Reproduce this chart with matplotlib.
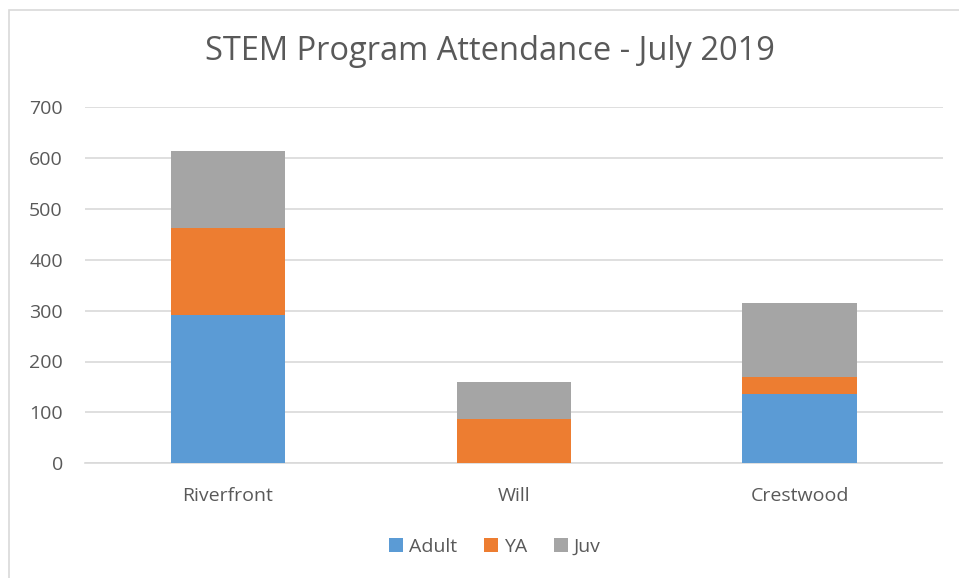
import matplotlib.pyplot as plt
import numpy as np
from matplotlib.patches import Rectangle

branches = ["Riverfront", "Will", "Crestwood"]
adult = [292, 0, 137]
ya = [171, 87, 33]
juv = [151, 73, 144]

colors = {"Adult": "#5B9BD5", "YA": "#ED7D31", "Juv": "#A5A5A5"}
text_color = "#595959"

plt.rcParams["font.family"] = ["Open Sans", "DejaVu Sans"]

W, H = 959, 578
fig = plt.figure(figsize=(W / 100, H / 100), dpi=100)
ax = fig.add_axes([85 / W, 1 - 463.3 / H, (942.5 - 85) / W, (463.3 - 107) / H])

x = np.arange(len(branches))
bottom = np.zeros(len(branches))
for name, vals in [("Adult", adult), ("YA", ya), ("Juv", juv)]:
    ax.bar(x, vals, width=0.4, bottom=bottom, color=colors[name], label=name,
           zorder=3)
    bottom += np.array(vals)

ax.set_xlim(-0.5, 2.5)
ax.set_ylim(0, 700)
ax.set_yticks(range(0, 701, 100))
ax.set_xticks(x)
ax.set_xticklabels(branches)
ax.grid(axis="y", color="#D9D9D9", linewidth=1.2, zorder=0)
for s in ["top", "right", "left"]:
    ax.spines[s].set_visible(False)
ax.spines["bottom"].set_color("#D9D9D9")
ax.spines["bottom"].set_linewidth(1.2)
ax.tick_params(axis="both", length=0, labelsize=14, colors=text_color)
ax.tick_params(axis="y", pad=16)
ax.tick_params(axis="x", pad=17)

fig.text(490 / W, 1 - 52 / H, "STEM Program Attendance - July 2019",
         ha="center", va="center", fontsize=23.5, color=text_color)

fig.legend(loc="center", bbox_to_anchor=(495 / W, 1 - 547 / H), ncol=3,
           frameon=False, fontsize=14, labelcolor=text_color,
           handlelength=0.7, handleheight=0.7, handletextpad=0.3,
           columnspacing=1.4)

fig.patches.append(Rectangle((8.5 / W, -0.1), 1.2, 1 - 9.5 / H + 0.1,
                             transform=fig.transFigure, fill=False,
                             edgecolor="#D9D9D9", linewidth=1.2))

fig.savefig("out.png", dpi=100)
